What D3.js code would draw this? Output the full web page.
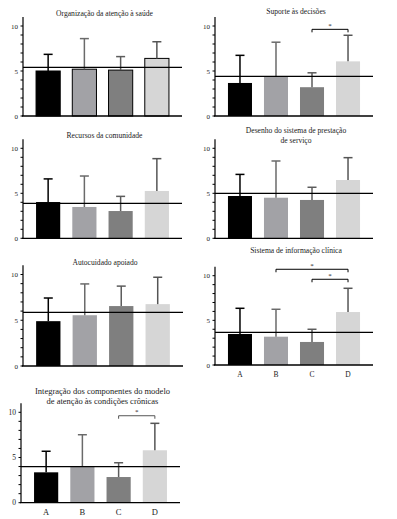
<!DOCTYPE html>
<html>
<head>
<meta charset="utf-8">
<script src="https://cdn.jsdelivr.net/npm/d3@7"></script>
<style>
  body { margin: 0; background: #fff; }
  text { font-family: "Liberation Serif", "DejaVu Serif", serif; fill: #222; }
</style>
</head>
<body>
<div id="chart"></div>
<script>
// categories shared by every panel
let categories = ['A', 'B', 'C', 'D'];

// means
let organizacaoMeans = [5.0, 5.2, 5.1, 6.4];
let suporteMeans = [3.67, 4.4, 3.2, 6.07];
let recursosMeans = [4.03, 3.48, 3.03, 5.26];
let desenhoMeans = [4.7, 4.51, 4.26, 6.48];
let autocuidadoMeans = [4.9, 5.55, 6.55, 6.76];
let sistemaMeans = [3.47, 3.17, 2.58, 5.93];
let integracaoMeans = [3.36, 4.03, 2.84, 5.8];

// standard deviations (upper error bar only)
let organizacaoSd = [1.85, 3.4, 1.5, 1.85];
let suporteSd = [3.07, 3.8, 1.6, 2.9];
let recursosSd = [2.57, 3.44, 1.63, 3.59];
let desenhoSd = [2.4, 4.08, 1.41, 2.48];
let autocuidadoSd = [2.53, 3.42, 2.18, 2.94];
let sistemaSd = [2.88, 3.07, 1.42, 2.66];
let integracaoSd = [2.33, 3.49, 1.58, 2.98];

// reference lines
let refValues = [5.4, 4.4, 3.89, 5.0, 5.85, 3.66, 3.98];

// titles
let titles = [
    ['Organização da atenção à saúde'],
    ['Suporte às decisões'],
    ['Recursos da comunidade'],
    ['Desenho do sistema de prestação', 'de serviço'],
    ['Autocuidado apoiado'],
    ['Sistema de informação clínica'],
    ['Integração dos componentes do modelo', 'de atenção às condições crônicas']
];

// significance brackets: [from, to, level]
let suporteSig = [['C', 'D', 9.63]];
let sistemaSig = [['B', 'D', 10.72], ['C', 'D', 9.6]];
let integracaoSig = [['C', 'D', 9.62]];

let yTicks = [0, 5, 10];
let minorTicks = d3.range(0, 11);

let barColors = ['#000000', '#a2a2a6', '#7f7f7f', '#d6d6d6'];
let errColors = ['#000000', '#6a6a6a', '#5c5c5c', '#555555'];

let svgWidth = 397;
let svgHeight = 519;

let svg = d3.select('#chart')
            .append('svg')
            .attr('width', svgWidth)
            .attr('height', svgHeight);

// panel layout (pixel geometry only)
let panels = [
    {means: organizacaoMeans, sd: organizacaoSd, sig: [], x0: 23, x1: 182, base: 116, top10: 26, titleY: 16, xLabels: false, outline: true},
    {means: suporteMeans, sd: suporteSd, sig: suporteSig, x0: 215, x1: 373, base: 116, top10: 26, titleY: 14, xLabels: false},
    {means: recursosMeans, sd: recursosSd, sig: [], x0: 23, x1: 182, base: 238.3, top10: 148.3, titleY: 138, xLabels: false},
    {means: desenhoMeans, sd: desenhoSd, sig: [], x0: 215, x1: 373, base: 238.3, top10: 148.3, titleY: 133, xLabels: false},
    {means: autocuidadoMeans, sd: autocuidadoSd, sig: [], x0: 23, x1: 183, base: 366, top10: 274.5, titleY: 265, xLabels: false},
    {means: sistemaMeans, sd: sistemaSd, sig: sistemaSig, x0: 215, x1: 373, base: 365, top10: 275.7, titleY: 253, xLabels: true},
    {means: integracaoMeans, sd: integracaoSd, sig: integracaoSig, x0: 21, x1: 180, base: 502.7, top10: 412.3, titleY: 394, xLabels: true, big: true}
];

panels.forEach((p, i) => {
    let g = svg.append('g');
    let unit = (p.base - p.top10) / 10;

    let xScale = d3.scaleBand()
                   .domain(categories)
                   .range([p.x0, p.x1])
                   .paddingInner(0.333)
                   .paddingOuter(0.36);

    let yScale = d3.scaleLinear()
                   .domain([0, 10])
                   .range([p.base, p.top10]);

    let rows = categories.map((c, j) => ({cat: c, mean: p.means[j], sd: p.sd[j], idx: j}));

    // bars
    g.selectAll('rect.bar')
     .data(rows)
     .enter()
     .append('rect')
     .attr('x', d => xScale(d.cat))
     .attr('y', d => yScale(d.mean))
     .attr('width', xScale.bandwidth())
     .attr('height', d => p.base - yScale(d.mean))
     .attr('fill', d => barColors[d.idx])
     .attr('stroke', p.outline ? '#000' : 'none')
     .attr('stroke-width', p.outline ? 1 : 0);

    // error bars
    let capW = 9;
    g.selectAll('line.err')
     .data(rows)
     .enter()
     .append('line')
     .attr('x1', d => xScale(d.cat) + xScale.bandwidth() / 2)
     .attr('x2', d => xScale(d.cat) + xScale.bandwidth() / 2)
     .attr('y1', d => yScale(d.mean))
     .attr('y2', d => yScale(d.mean + d.sd))
     .attr('stroke', d => errColors[d.idx])
     .attr('stroke-width', 1.5);
    g.selectAll('line.cap')
     .data(rows)
     .enter()
     .append('line')
     .attr('x1', d => xScale(d.cat) + xScale.bandwidth() / 2 - capW / 2)
     .attr('x2', d => xScale(d.cat) + xScale.bandwidth() / 2 + capW / 2)
     .attr('y1', d => yScale(d.mean + d.sd))
     .attr('y2', d => yScale(d.mean + d.sd))
     .attr('stroke', d => errColors[d.idx])
     .attr('stroke-width', 1.5);

    // reference line
    g.append('line')
     .attr('x1', p.x0)
     .attr('x2', p.x1)
     .attr('y1', yScale(refValues[i]))
     .attr('y2', yScale(refValues[i]))
     .attr('stroke', '#000')
     .attr('stroke-width', 1.3);

    // y axis
    g.append('line')
     .attr('x1', p.x0).attr('x2', p.x0)
     .attr('y1', p.base).attr('y2', yScale(11))
     .attr('stroke', '#000')
     .attr('stroke-width', 1.2);
    g.selectAll('line.minor')
     .data(minorTicks)
     .enter()
     .append('line')
     .attr('x1', p.x0 - 2.5).attr('x2', p.x0)
     .attr('y1', d => yScale(d)).attr('y2', d => yScale(d))
     .attr('stroke', '#000')
     .attr('stroke-width', 1);
    g.selectAll('text.ytick')
     .data(yTicks)
     .enter()
     .append('text')
     .attr('x', p.x0 - 5)
     .attr('y', d => yScale(d) + 2.5)
     .attr('text-anchor', 'end')
     .attr('font-size', p.big ? '7.5px' : '7px')
     .text(d => d);

    // x axis
    g.append('line')
     .attr('x1', p.x0 - 1).attr('x2', p.x1)
     .attr('y1', p.base).attr('y2', p.base)
     .attr('stroke', '#000')
     .attr('stroke-width', 1.3);

    if (p.xLabels) {
        g.selectAll('text.xlab')
         .data(categories)
         .enter()
         .append('text')
         .attr('x', d => xScale(d) + xScale.bandwidth() / 2)
         .attr('y', p.base + 12)
         .attr('text-anchor', 'middle')
         .attr('font-size', p.big ? '8.5px' : '7.5px')
         .text(d => d);
    }

    // significance brackets
    p.sig.forEach(s => {
        let xa = xScale(s[0]) + xScale.bandwidth() / 2;
        let xb = xScale(s[1]) + xScale.bandwidth() / 2;
        let yy = yScale(s[2]);
        g.append('path')
         .attr('d', `M${xa},${yy + 3}V${yy}H${xb}V${yy + 3}`)
         .attr('fill', 'none')
         .attr('stroke', p.big ? '#555' : '#000')
         .attr('stroke-width', 1);
        g.append('text')
         .attr('x', (xa + xb) / 2)
         .attr('y', yy - 1.5)
         .attr('text-anchor', 'middle')
         .attr('font-size', '7px')
         .text('*');
    });

    // title
    let cx = (p.x0 + p.x1) / 2 + 2;
    titles[i].forEach((line, k) => {
        g.append('text')
         .attr('x', cx)
         .attr('y', p.titleY + k * (p.big ? 9.5 : 9.5))
         .attr('text-anchor', 'middle')
         .attr('font-size', p.big ? '8.5px' : '7.6px')
         .text(line);
    });
});
</script>
</body>
</html>
